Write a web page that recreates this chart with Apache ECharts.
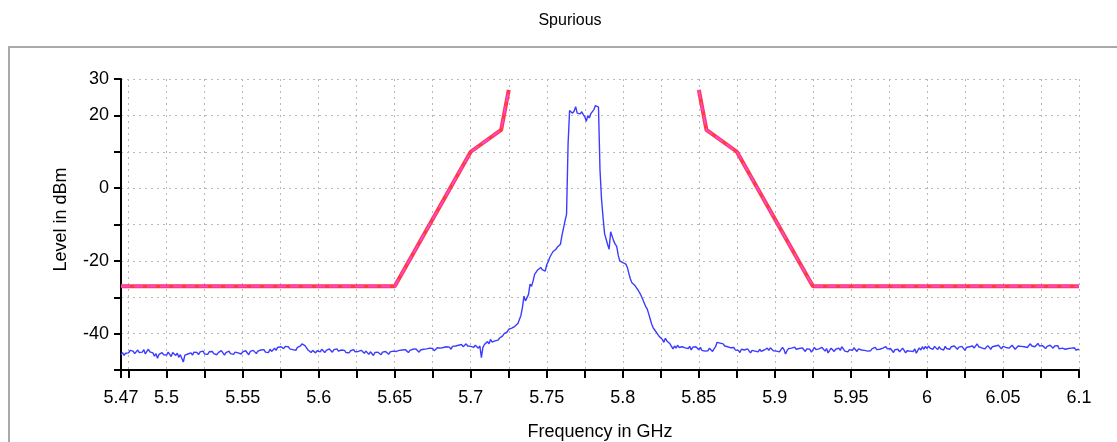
<!DOCTYPE html>
<html>
<head>
<meta charset="utf-8">
<script src="https://cdn.jsdelivr.net/npm/echarts@6/dist/echarts.min.js"></script>
<style>
  html, body { margin: 0; padding: 0; background: #ffffff; }
  #chart { width: 1117px; height: 442px; }
</style>
</head>
<body>
<div id="chart"></div>
<script>
// Labels
const chartTitle = 'Spurious';
const xAxisName = 'Frequency in GHz';
const yAxisName = 'Level in dBm';

// Measured trace: one level (dBm) per 1 MHz step, starting at 5.470 GHz
const traceStartGHz = 5.47;
const traceStepGHz = 0.001;
const traceLevel = [
  -45.8,-45.2,-46.0,-45.4,-44.9,-45.3,-44.6,-45.1,-44.8,-45.5,
  -45.0,-44.5,-45.2,-44.7,-45.1,-44.4,-45.6,-44.9,-44.3,-45.0,
  -44.6,-45.3,-46.2,-45.5,-46.8,-45.7,-46.1,-45.2,-45.8,-45.4,
  -45.9,-45.1,-45.6,-46.3,-45.2,-45.7,-46.0,-45.4,-46.5,-45.8,
  -46.2,-47.8,-45.9,-46.4,-45.6,-46.0,-45.3,-45.9,-45.1,-45.6,
  -45.2,-45.8,-45.0,-45.5,-44.8,-45.6,-45.1,-45.7,-45.0,-45.4,
  -44.9,-45.5,-45.1,-45.8,-45.2,-45.6,-44.7,-45.3,-45.9,-45.2,
  -45.4,-44.8,-45.5,-45.0,-45.7,-45.1,-44.6,-45.3,-44.9,-45.6,
  -45.0,-45.4,-44.7,-45.2,-45.8,-44.9,-45.3,-44.6,-45.1,-45.5,
  -44.8,-45.3,-44.5,-45.0,-44.4,-45.1,-44.7,-45.2,-44.3,-44.9,
  -44.5,-44.0,-44.6,-43.8,-44.3,-43.6,-43.2,-44.1,-43.5,-43.0,
  -43.6,-44.2,-43.9,-44.4,-44.0,-44.6,-43.8,-44.3,-43.4,-42.8,
  -42.5,-43.3,-43.9,-44.5,-44.8,-45.2,-44.6,-45.0,-45.3,-44.7,
  -44.5,-45.0,-44.3,-44.8,-45.2,-44.6,-45.0,-44.2,-44.7,-45.1,
  -44.4,-44.9,-44.2,-44.8,-45.3,-44.5,-45.0,-44.6,-45.2,-44.8,
  -45.3,-44.7,-45.1,-44.4,-45.0,-45.5,-44.9,-45.2,-44.6,-45.0,
  -45.4,-44.8,-45.3,-45.7,-45.0,-45.5,-46.0,-45.2,-45.6,-45.1,
  -45.4,-45.8,-45.1,-45.6,-44.9,-45.3,-45.7,-45.0,-45.5,-44.8,
  -45.2,-44.9,-45.4,-44.6,-45.1,-44.5,-45.0,-44.4,-44.8,-45.2,
  -44.6,-45.0,-44.3,-44.8,-44.2,-44.7,-45.1,-44.5,-44.9,-44.3,
  -44.8,-44.2,-44.6,-44.0,-44.5,-44.1,-44.7,-44.3,-43.9,-44.4,
  -44.0,-44.5,-43.8,-44.2,-43.6,-44.1,-43.7,-44.3,-43.5,-43.9,
  -43.4,-43.9,-43.2,-43.7,-43.0,-43.6,-43.3,-42.8,-43.4,-43.1,
  -43.5,-43.0,-43.8,-43.2,-42.9,-44.0,-43.4,-46.6,-43.8,-43.0,
  -42.6,-42.2,-42.8,-41.6,-42.3,-41.9,-42.0,-41.5,-41.8,-41.2,
  -41.0,-40.6,-40.0,-40.4,-39.5,-38.8,-39.2,-38.5,-38.7,-38.0,
  -37.5,-37.2,-37.0,-35.0,-32.8,-29.7,-31.0,-30.5,-29.2,-26.4,
  -27.0,-25.5,-23.7,-24.2,-22.5,-23.0,-21.8,-22.4,-22.5,-22.8,
  -21.0,-20.2,-19.0,-18.6,-17.5,-17.2,-16.8,-16.2,-15.8,-15.4,
  -13.0,-11.0,-9.0,-7.2,12.0,21.3,21.8,20.6,21.2,22.4,
  20.6,20.9,20.4,21.0,20.2,19.6,18.4,19.9,19.3,20.5,
  21.0,21.6,22.7,22.2,22.3,5.0,-3.0,-8.0,-12.5,-14.0,
  -15.5,-16.8,-12.0,-11.5,-14.5,-15.4,-16.0,-18.5,-20.0,-19.6,
  -20.5,-21.0,-20.9,-21.8,-23.5,-25.0,-26.0,-26.3,-26.8,-27.4,
  -28.0,-28.3,-29.5,-30.5,-31.5,-32.5,-33.2,-34.5,-36.0,-37.4,
  -38.4,-39.0,-39.3,-40.2,-40.8,-41.3,-41.6,-42.4,-41.3,-42.0,
  -41.6,-42.8,-43.5,-44.2,-43.4,-44.0,-43.2,-43.8,-44.3,-43.6,
  -43.2,-43.9,-43.4,-44.1,-43.5,-44.5,-43.7,-44.2,-43.6,-44.0,
  -44.4,-43.8,-44.6,-44.1,-44.8,-44.3,-44.7,-44.0,-44.5,-44.9,
  -44.2,-43.6,-42.4,-42.0,-42.6,-43.0,-42.8,-43.4,-43.1,-43.6,
  -43.3,-43.9,-44.4,-43.8,-44.5,-44.1,-44.6,-45.2,-44.3,-44.8,
  -44.5,-45.0,-44.2,-44.7,-45.3,-44.6,-44.1,-44.8,-44.4,-45.0,
  -44.3,-44.9,-45.4,-44.5,-44.8,-44.0,-44.6,-43.9,-44.4,-44.7,
  -44.2,-44.8,-44.3,-45.0,-44.5,-43.8,-44.4,-45.6,-44.7,-44.1,
  -44.6,-44.0,-44.5,-43.7,-44.3,-44.8,-44.1,-44.6,-43.9,-44.4,
  -44.9,-44.2,-44.7,-44.3,-45.1,-44.5,-43.8,-44.4,-44.9,-44.2,
  -44.5,-43.8,-44.3,-44.8,-44.1,-45.3,-44.6,-44.0,-44.5,-44.9,
  -44.3,-44.7,-44.0,-44.6,-43.6,-44.2,-44.8,-44.3,-45.0,-44.4,
  -44.1,-44.6,-43.9,-44.4,-44.9,-44.2,-43.7,-44.5,-44.0,-44.6,
  -44.2,-44.8,-44.3,-44.7,-44.1,-44.5,-43.8,-44.4,-44.9,-44.3,
  -44.6,-44.0,-44.5,-43.6,-44.2,-44.7,-44.1,-44.6,-45.2,-44.4,
  -44.8,-44.3,-45.0,-44.5,-44.0,-44.6,-45.3,-44.7,-44.2,-44.8,
  -44.4,-44.9,-44.2,-45.4,-44.6,-43.9,-44.5,-43.6,-44.3,-43.5,
  -44.1,-43.4,-44.0,-43.7,-44.3,-43.5,-43.9,-44.4,-43.6,-44.2,
  -43.8,-44.5,-43.5,-44.1,-43.7,-44.3,-43.6,-44.0,-43.4,-43.9,
  -44.3,-43.7,-44.2,-43.5,-44.0,-44.6,-43.8,-44.2,-43.6,-44.1,
  -43.4,-44.0,-43.5,-42.8,-43.6,-43.2,-43.9,-43.5,-44.2,-43.7,
  -43.3,-43.8,-44.3,-43.6,-44.0,-43.4,-43.9,-43.2,-43.7,-44.2,
  -43.5,-43.1,-43.8,-43.3,-44.0,-43.6,-43.2,-43.7,-44.3,-43.8,
  -43.4,-42.9,-43.5,-43.0,-43.6,-43.2,-43.8,-43.3,-42.8,-43.4,
  -43.0,-43.6,-43.2,-42.7,-43.4,-43.9,-43.3,-43.7,-44.1,-43.5,
  -43.8,-43.2,-43.6,-44.0,-43.4,-43.8,-43.3,-44.2,-43.7,-44.0,
  -43.6,-44.3,-43.8,-44.1,-44.6,-44.0,-44.4,-43.9,-44.5,-44.2,
  -44.3
];

// Spurious emission limit mask, lower and upper side
const lowerMaskFreq  = [5.47, 5.65, 5.70, 5.72, 5.725];
const lowerMaskLevel = [-27, -27, 10, 16, 27];
const upperMaskFreq  = [5.85, 5.855, 5.875, 5.925, 6.1];
const upperMaskLevel = [27, 16, 10, -27, -27];

// Axis ticks and labels
const xTickValues  = [5.47, 5.475, 5.5, 5.525, 5.55, 5.575, 5.6, 5.625, 5.65, 5.675, 5.7, 5.725,
                      5.75, 5.775, 5.8, 5.825, 5.85, 5.875, 5.9, 5.925, 5.95, 5.975, 6, 6.025,
                      6.05, 6.075, 6.1];
const xLabelValues = [5.47, 5.5, 5.55, 5.6, 5.65, 5.7, 5.75, 5.8, 5.85, 5.9, 5.95, 6, 6.05, 6.1];
const yLabelValues = [30, 20, 0, -20, -40];

const zip = (xs, ys) => xs.map((x, i) => [x, ys[i]]);
const traceData = traceLevel.map((v, i) => [+(traceStartGHz + i * traceStepGHz).toFixed(3), v]);
const lowerMask = zip(lowerMaskFreq, lowerMaskLevel);
const upperMask = zip(upperMaskFreq, upperMaskLevel);

const FONT = '"Liberation Sans", Arial, sans-serif';
const gridLine = { show: true, lineStyle: { color: '#b8b8b8', width: 1, type: [2, 4] } };

const maskBase = (data) => ({
  type: 'line', data, symbol: 'none', silent: true, z: 3,
  lineStyle: { color: '#ff3a44', width: 4 }
});
const maskDash = (data) => ({
  type: 'line', data, symbol: 'none', silent: true, z: 4,
  lineStyle: { color: '#ff44ee', width: 1.6, type: [9, 4] }
});

const chart = echarts.init(document.getElementById('chart'), null, { renderer: 'canvas' });
chart.setOption({
  animation: false,
  backgroundColor: '#ffffff',
  textStyle: { fontFamily: FONT },
  graphic: [
    {
      type: 'rect', z: -1, silent: true,
      shape: { x: 9, y: 47, width: 1300, height: 600 },
      style: { fill: 'none', stroke: '#a9a9a9', lineWidth: 2 }
    },
    {
      type: 'text', x: 570, y: 21, silent: true,
      style: { text: chartTitle, font: '16px ' + FONT, fill: '#000', textAlign: 'center', textVerticalAlign: 'middle' }
    }
  ],
  grid: { left: 121, right: 38, top: 79, bottom: 72, containLabel: false, outerBoundsMode: 'none' },
  xAxis: {
    type: 'value', min: 5.47, max: 6.1,
    name: xAxisName, nameLocation: 'middle', nameGap: 53,
    nameTextStyle: { fontSize: 18, color: '#000', fontFamily: FONT },
    axisLine: { show: true, onZero: false, lineStyle: { color: '#000', width: 2 } },
    axisTick: { show: true, length: 8, customValues: xTickValues, lineStyle: { color: '#000', width: 2 } },
    axisLabel: {
      customValues: xLabelValues, margin: 19, fontSize: 18, color: '#000', fontFamily: FONT,
      formatter: (v) => String(+(+v).toFixed(3))
    },
    splitLine: gridLine
  },
  yAxis: {
    type: 'value', min: -50, max: 30, interval: 10,
    name: yAxisName, nameLocation: 'middle', nameGap: 51, nameRotate: 90,
    nameTextStyle: { fontSize: 18, color: '#000', fontFamily: FONT, padding: [0, 0, 0, 10] },
    axisLine: { show: true, onZero: false, lineStyle: { color: '#000', width: 2 } },
    axisTick: { show: true, length: 7, lineStyle: { color: '#000', width: 2 } },
    axisLabel: { customValues: yLabelValues, margin: 12, fontSize: 18, color: '#000', fontFamily: FONT },
    splitLine: gridLine
  },
  series: [
    maskBase(lowerMask), maskBase(upperMask),
    maskDash(lowerMask), maskDash(upperMask),
    {
      type: 'line', data: traceData, symbol: 'none', silent: true, z: 5,
      lineStyle: { color: '#3c3cff', width: 1.4 }
    }
  ]
});
</script>
</body>
</html>
